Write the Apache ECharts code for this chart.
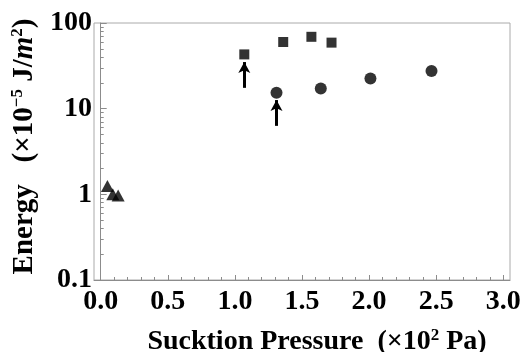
<!DOCTYPE html>
<html>
<head>
<meta charset="utf-8">
<script src="https://cdn.jsdelivr.net/npm/echarts@6/dist/echarts.min.js"></script>
<style>html,body{margin:0;padding:0;background:#fff}#c{width:524px;height:352px}</style>
</head>
<body>
<div id="c"></div>
<script>
// Data
var squarePts = [[1.07, 43], [1.36, 60], [1.57, 69], [1.72, 59]];
var circlePts = [[1.31, 15.3], [1.64, 17.2], [2.01, 22.5], [2.465, 27.5]];
var trianglePts = [[0.05, 1.25], [0.09, 1.0], [0.13, 0.97]];
var arrows = [[[1.07, 17.5], [1.07, 35]], [[1.31, 6.3], [1.31, 12.6]]];
var xMajorTicks = [0, 0.5, 1.0, 1.5, 2.0, 2.5, 3.0];
var xMinorTicks = [0.1,0.2,0.3,0.4,0.6,0.7,0.8,0.9,1.1,1.2,1.3,1.4,1.6,1.7,1.8,1.9,2.1,2.2,2.3,2.4,2.6,2.7,2.8,2.9];
var yMajorTicks = [0.1, 1, 10, 100];
var yMinorTicks = [0.2,0.3,0.4,0.5,0.6,0.7,0.8,0.9,2,3,4,5,6,7,8,9,20,30,40,50,60,70,80,90];

var FONT = 'Liberation Serif';
var axisGray = '#8c8c8c';
var chart = echarts.init(document.getElementById('c'), null, {renderer: 'canvas'});
chart.setOption({
  animation: false,
  grid: {left: 94, right: 14, top: 23, bottom: 72, show: true, borderColor: '#aaa', borderWidth: 1,
         outerBoundsMode: 'none', containLabel: false},
  xAxis: [{
    type: 'value', min: -0.05, max: 3.05, position: 'bottom',
    axisLine: {show: true, lineStyle: {color: axisGray, width: 1}},
    axisTick: {show: true, inside: true, length: 5, customValues: xMajorTicks, lineStyle: {color: axisGray, width: 1}},
    axisLabel: {customValues: xMajorTicks, formatter: function(v){return v.toFixed(1);}, color: '#000', fontFamily: FONT, fontWeight: 'bold', fontSize: 28, margin: 8},
    splitLine: {show: false},
    name: 'Suckti\u200bon Pressure  (×10{sup|2} Pa)',
    nameLocation: 'middle', nameGap: 47,
    nameTextStyle: {color: '#000', fontFamily: FONT, fontWeight: 'bold', fontSize: 28, padding: [0, 0, 0, 30],
      rich: {sup: {fontFamily: FONT, fontWeight: 'bold', fontSize: 17, verticalAlign: 'top', padding: [0,0,12,0], color:'#000'}}}
  }, {
    type: 'value', min: -0.05, max: 3.05, position: 'bottom', offset: 0,
    axisLine: {show: false},
    axisTick: {show: true, inside: true, length: 3, customValues: xMinorTicks, lineStyle: {color: axisGray, width: 1}},
    axisLabel: {show: false}, splitLine: {show: false}
  }],
  yAxis: [{
    type: 'log', logBase: 10, min: 0.1, max: 100, position: 'left',
    axisLine: {show: true, lineStyle: {color: axisGray, width: 1}},
    axisTick: {show: true, inside: true, length: 6, customValues: yMajorTicks, lineStyle: {color: axisGray, width: 1}},
    axisLabel: {customValues: yMajorTicks, formatter: function(v){return String(v);}, color: '#000', fontFamily: FONT, fontWeight: 'bold', fontSize: 28, margin: 2},
    splitLine: {show: false},
    name: 'Energy   (×10{sup|−5} J/{it|m}{sup|2})',
    nameLocation: 'middle', nameGap: 42, nameRotate: 90,
    nameTextStyle: {color: '#000', fontFamily: FONT, fontWeight: 'bold', fontSize: 29, padding: [0, 0, 0, 10],
      rich: {
        sup: {fontFamily: FONT, fontWeight: 'bold', fontSize: 17, verticalAlign: 'top', padding: [0,0,14,0], color:'#000'},
        it: {fontFamily: FONT, fontWeight: 'bold', fontStyle: 'italic', fontSize: 29, color:'#000'}
      }}
  }, {
    type: 'log', logBase: 10, min: 0.1, max: 100, position: 'left', offset: 0,
    axisLine: {show: false},
    axisTick: {show: true, inside: true, length: 3, customValues: yMinorTicks, lineStyle: {color: axisGray, width: 1}},
    axisLabel: {show: false}, splitLine: {show: false}
  }],
  series: [{
    type: 'scatter', data: squarePts, symbol: 'rect', symbolSize: 10,
    itemStyle: {color: '#000'},
    markLine: {
      silent: true, symbol: ['none', 'arrow'], symbolSize: [9, 11],
      lineStyle: {color: '#000', width: 3, type: 'solid'},
      label: {show: false},
      data: arrows.map(function(a){return [{coord: a[0]}, {coord: a[1]}];})
    }
  }, {
    type: 'scatter', data: circlePts, symbol: 'circle', symbolSize: 12,
    itemStyle: {color: '#000'}
  }, {
    type: 'scatter', data: trianglePts, symbol: 'triangle', symbolSize: [13, 12],
    itemStyle: {color: '#000'}
  }]
});
</script>
</body>
</html>
